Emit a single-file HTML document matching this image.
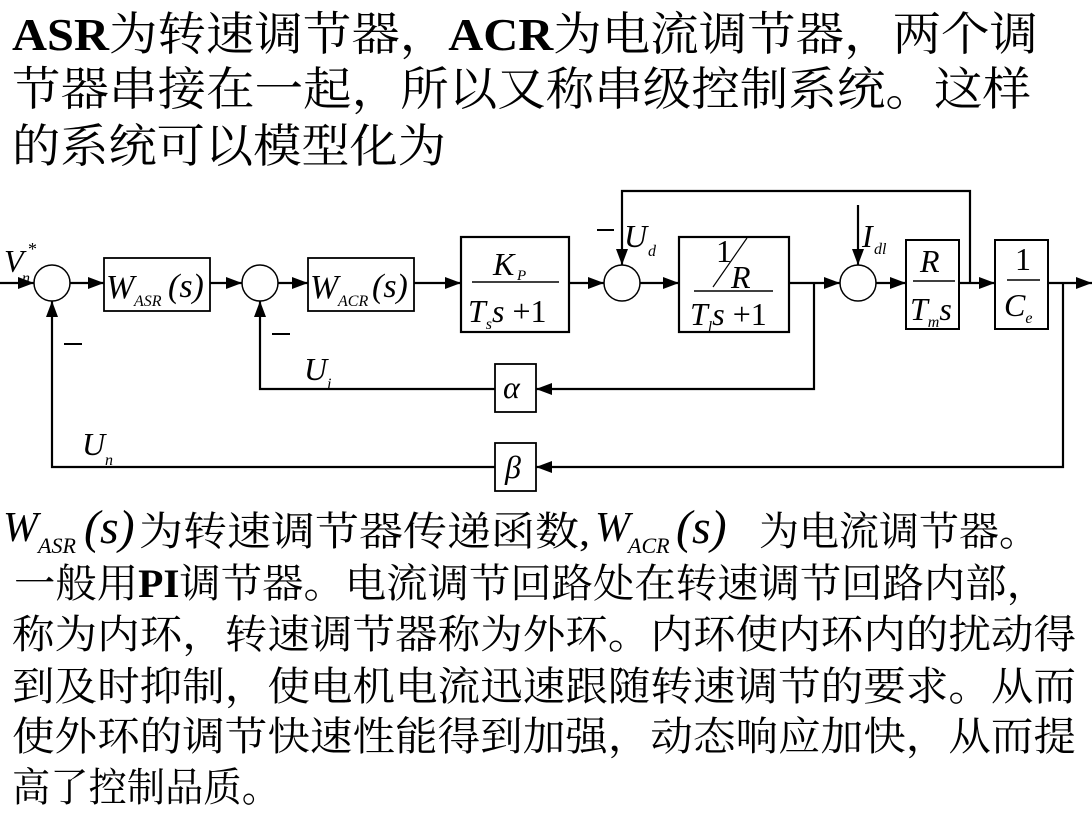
<!DOCTYPE html>
<html><head><meta charset="utf-8"><style>
html,body{margin:0;padding:0;background:#fff;}
svg{display:block;}
.cn{font-family:"Liberation Serif","Noto Serif CJK SC","Noto Sans CJK SC",serif;fill:#000;}
.m{font-family:"Liberation Serif",serif;font-style:italic;fill:#000;}
.r{font-family:"Liberation Serif",serif;fill:#000;}
</style></head><body>
<svg width="1092" height="814" viewBox="0 0 1092 814" xmlns="http://www.w3.org/2000/svg">
<defs><marker id="a" markerWidth="16" markerHeight="12" refX="16" refY="6" orient="auto" markerUnits="userSpaceOnUse"><path d="M0,0 L16,6 L0,12 z" fill="#000"/></marker></defs>
<text class="cn" x="12" y="50" font-size="46" textLength="1026" lengthAdjust="spacingAndGlyphs"><tspan font-weight="bold">ASR</tspan>为转速调节器，<tspan font-weight="bold">ACR</tspan>为电流调节器，两个调</text>
<text class="cn" x="12" y="105" font-size="46" textLength="1019" lengthAdjust="spacingAndGlyphs">节器串接在一起，所以又称串级控制系统。这样</text>
<text class="cn" x="12" y="162" font-size="46" textLength="434" lengthAdjust="spacingAndGlyphs">的系统可以模型化为</text>

<g stroke="#000" stroke-width="2.2" fill="none">
<line x1="0" y1="283" x2="34" y2="283" marker-end="url(#a)"/>
<circle cx="52" cy="283" r="18" stroke-width="1.5"/>
<line x1="70" y1="283" x2="104" y2="283" marker-end="url(#a)"/>
<rect x="104" y="258" width="106" height="53" stroke-width="1.8"/>
<line x1="210" y1="283" x2="242" y2="283" marker-end="url(#a)"/>
<circle cx="260" cy="283" r="18" stroke-width="1.5"/>
<line x1="278" y1="283" x2="308" y2="283" marker-end="url(#a)"/>
<rect x="308" y="258" width="106" height="53" stroke-width="1.8"/>
<line x1="414" y1="283" x2="461" y2="283" marker-end="url(#a)"/>
<rect x="461" y="237" width="108" height="95" stroke-width="2.2"/>
<line x1="569" y1="283" x2="604" y2="283" marker-end="url(#a)"/>
<circle cx="622" cy="283" r="18" stroke-width="1.5"/>
<line x1="640" y1="283" x2="679" y2="283" marker-end="url(#a)"/>
<rect x="679" y="237" width="110" height="95" stroke-width="2.2"/>
<line x1="789" y1="283" x2="840" y2="283" marker-end="url(#a)"/>
<circle cx="858" cy="283" r="18" stroke-width="1.5"/>
<line x1="876" y1="283" x2="906" y2="283" marker-end="url(#a)"/>
<rect x="906" y="240" width="53" height="89" stroke-width="2"/>
<line x1="959" y1="283" x2="995" y2="283" marker-end="url(#a)"/>
<rect x="995" y="240" width="53" height="89" stroke-width="2"/>
<line x1="1048" y1="283" x2="1092" y2="283" marker-end="url(#a)"/>
<line x1="858" y1="205" x2="858" y2="265" marker-end="url(#a)"/>
<polyline points="970,283 970,191 622,191 622,265" marker-end="url(#a)"/>
<polyline points="814,283 814,389 536,389" marker-end="url(#a)"/>
<rect x="495" y="364" width="41" height="48" stroke-width="1.8"/>
<polyline points="495,389 260,389 260,301" marker-end="url(#a)"/>
<polyline points="1063,283 1063,467 536,467" marker-end="url(#a)"/>
<rect x="495" y="443" width="41" height="48" stroke-width="1.8"/>
<polyline points="495,467 52,467 52,301" marker-end="url(#a)"/>
<line x1="472" y1="282" x2="559" y2="282" stroke-width="1.5"/>
<line x1="694" y1="291" x2="773" y2="291" stroke-width="1.5"/>
<line x1="713" y1="287" x2="747" y2="238" stroke-width="1.2"/>
<line x1="913" y1="281" x2="955" y2="281" stroke-width="1.5"/>
<line x1="1007" y1="280" x2="1040" y2="280" stroke-width="1.5"/>
<line x1="64" y1="344" x2="82" y2="344" stroke-width="2"/>
<line x1="272" y1="334" x2="290" y2="334" stroke-width="2"/>
<line x1="597" y1="230" x2="614" y2="230" stroke-width="2"/>
</g>

<text class="m" x="4" y="272" font-size="32">V</text>
<text class="m" x="22" y="283" font-size="16">n</text>
<text class="r" x="28" y="255" font-size="18">*</text>
<text class="m" x="106" y="298" font-size="34">W</text>
<text class="m" x="134" y="306" font-size="16">ASR</text>
<text class="m" x="168" y="297" font-size="34">(s)</text>
<text class="m" x="310" y="298" font-size="34">W</text>
<text class="m" x="338" y="306" font-size="16">ACR</text>
<text class="m" x="372" y="297" font-size="34">(s)</text>
<text class="m" x="493" y="275" font-size="32">K</text>
<text class="m" x="517" y="280" font-size="15">P</text>
<text class="m" x="468" y="322" font-size="32">T<tspan font-size="16" dy="7">s</tspan><tspan dy="-7">s</tspan><tspan font-style="normal"> +1</tspan></text>
<text class="r" x="716" y="262" font-size="32">1</text>
<text class="m" x="731" y="288" font-size="32">R</text>
<text class="m" x="690" y="325" font-size="32">T<tspan font-size="16" dy="7">l</tspan><tspan dy="-7">s</tspan><tspan font-style="normal"> +1</tspan></text>
<text class="m" x="920" y="272" font-size="32">R</text>
<text class="m" x="910" y="320" font-size="32">T<tspan font-size="16" dy="7">m</tspan><tspan dy="-7">s</tspan></text>
<text class="r" x="1015" y="270" font-size="32">1</text>
<text class="m" x="1004" y="316" font-size="32">C<tspan font-size="16" dy="7">e</tspan></text>
<text class="m" x="624" y="247" font-size="32">U</text>
<text class="m" x="648" y="256" font-size="16">d</text>
<text class="m" x="862" y="247" font-size="32">I</text>
<text class="m" x="874" y="254" font-size="16">dl</text>
<text class="m" x="304" y="380" font-size="32">U</text>
<text class="m" x="327" y="389" font-size="16">i</text>
<text class="m" x="82" y="455" font-size="32">U</text>
<text class="m" x="105" y="465" font-size="16">n</text>
<text class="m" x="503" y="398" font-size="32">α</text>
<text class="m" x="505" y="478" font-size="32">β</text>

<text class="m" x="3" y="541" font-size="42">W</text>
<text class="m" x="38" y="553" font-size="22">ASR</text>
<text class="m" x="84" y="543" font-size="48">(s)</text>
<text class="cn" x="139" y="545" font-size="40" textLength="451" lengthAdjust="spacingAndGlyphs">为转速调节器传递函数,</text>
<text class="m" x="595" y="541" font-size="42">W</text>
<text class="m" x="628" y="553" font-size="22">ACR</text>
<text class="m" x="676" y="543" font-size="48">(s)</text>
<text class="cn" x="759" y="545" font-size="40" textLength="280" lengthAdjust="spacingAndGlyphs">为电流调节器。</text>
<text class="cn" x="14" y="597" font-size="40" textLength="1034" lengthAdjust="spacingAndGlyphs">一般用<tspan font-weight="bold">PI</tspan>调节器。电流调节回路处在转速调节回路内部，</text>
<text class="cn" x="12" y="648" font-size="40" textLength="1064" lengthAdjust="spacingAndGlyphs">称为内环，转速调节器称为外环。内环使内环内的扰动得</text>
<text class="cn" x="12" y="700" font-size="40" textLength="1064" lengthAdjust="spacingAndGlyphs">到及时抑制，使电机电流迅速跟随转速调节的要求。从而</text>
<text class="cn" x="12" y="750" font-size="40" textLength="1064" lengthAdjust="spacingAndGlyphs">使外环的调节快速性能得到加强，动态响应加快，从而提</text>
<text class="cn" x="12" y="801" font-size="40" textLength="268" lengthAdjust="spacingAndGlyphs">高了控制品质。</text>
</svg>
</body></html>
